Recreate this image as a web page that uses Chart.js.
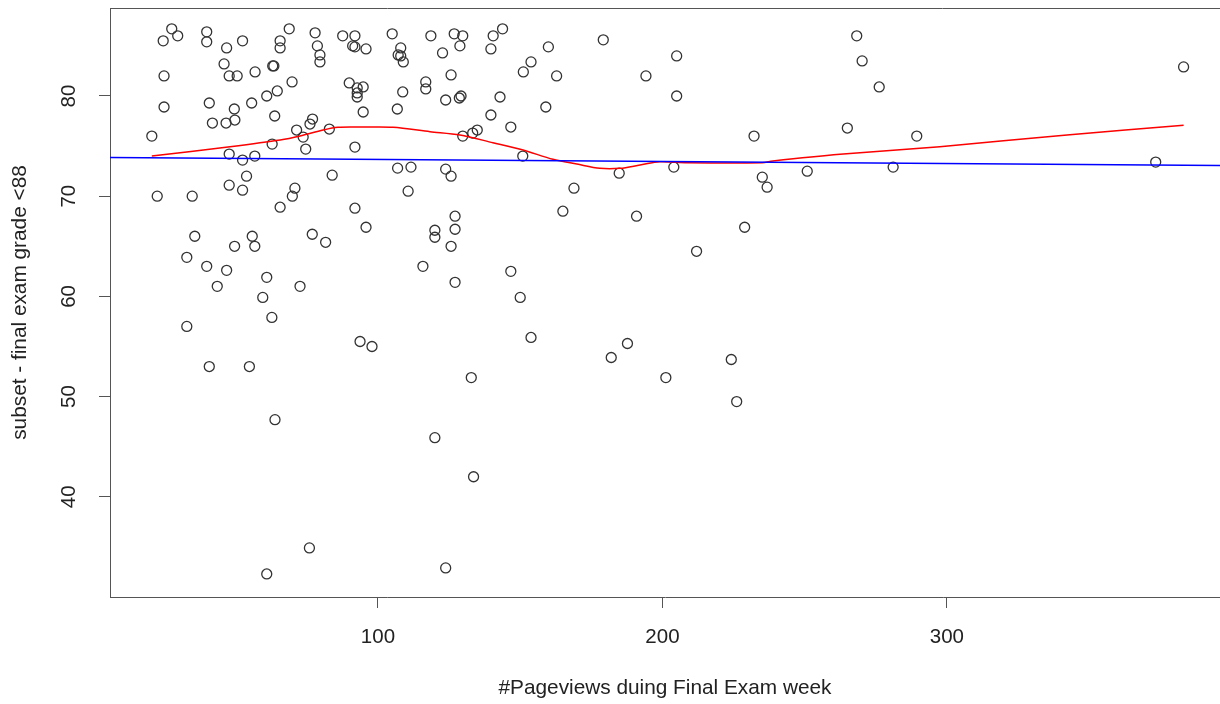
<!DOCTYPE html>
<html>
<head>
<meta charset="utf-8">
<script src="https://cdn.jsdelivr.net/npm/chart.js@4.4.0/dist/chart.umd.min.js"></script>
<style>
html,body{margin:0;padding:0;background:#fff;}
#wrap{width:1220px;height:704px;}
</style>
</head>
<body>
<div id="wrap"><canvas id="c" width="1220" height="704"></canvas></div>
<script>
// ---- data ----
const pageviews = [20.5,22.4,24.5,24.8,24.8,27.5,29.6,34.7,39.8,39.8,40.7,41.8,45.9,46.6,46.8,47.7,47.7,47.7,49.5,49.7,
  50.5,52.4,52.4,52.4,53.8,55.6,56.7,56.8,60.9,62.8,63.0,63.4,63.7,64.6,65.6,65.6,68.8,69.8,69.9,70.8,
  71.4,65.6,35.6,55.8,49.6,56.7,76.9,81.6,32.8,39.8,46.8,60.9,43.5,72.6,59.5,62.7,32.8,40.7,54.8,
  77.9,87.6,91.9,105.0,118.6,126.8,129.8,78.7,79.6,79.6,91.1,91.9,95.8,108.0,107.1,108.0,108.9,122.7,128.8,125.7,
  89.9,92.7,92.7,92.7,94.8,108.7,116.8,116.8,123.8,128.6,129.2,94.8,106.8,77.0,76.1,82.9,73.7,74.6,91.9,129.8,
  133.3,134.9,106.9,111.6,123.8,125.7,83.9,110.6,91.9,95.8,120.0,120.0,127.1,127.1,125.7,115.8,127.1,146.7,150.0,153.8,
  168.9,165.0,93.7,97.9,132.8,187.7,182.0,140.5,143.8,139.7,159.9,179.2,151.1,153.8,162.8,194.2,142.9,139.7,159.0,146.7,
  150.9,184.8,205.0,205.0,268.3,270.2,276.2,265.0,289.4,232.2,204.0,235.1,236.8,250.9,281.1,383.2,373.4,190.9,228.9,212.0,
  224.2,201.2,226.1,63.8,120.0,133.6,75.9,60.9,123.8];
const grades = [76.0,70.0,85.5,82.0,78.9,86.7,86.0,70.0,86.4,85.4,79.3,77.3,83.2,77.3,84.8,82.0,74.2,71.1,78.7,77.6,
  82.0,85.5,73.6,70.6,72.0,79.3,74.0,82.4,80.0,75.2,83.0,83.0,78.0,80.5,85.5,84.8,86.7,81.4,70.0,70.8,
  76.6,68.9,66.0,66.0,65.0,65.0,66.2,65.4,63.9,63.0,62.6,61.9,61.0,61.0,59.9,57.9,57.0,53.0,53.0,
  86.3,86.0,86.0,86.2,86.0,86.2,86.0,85.0,84.1,83.4,85.0,84.9,84.7,84.8,84.1,84.0,83.4,84.3,85.0,82.1,
  81.3,80.8,80.3,79.9,80.9,80.4,81.4,80.7,79.6,79.8,80.0,78.4,78.7,77.7,77.2,76.7,75.9,74.7,74.9,76.0,
  76.3,76.6,72.8,72.9,72.7,72.0,72.1,70.5,68.8,66.9,66.6,65.9,68.0,66.7,65.0,63.0,61.4,62.5,59.9,55.9,
  70.8,68.5,55.5,55.0,51.9,55.3,53.9,86.0,86.7,84.7,84.9,85.6,82.4,83.4,82.0,82.0,79.9,78.1,78.9,76.9,
  74.0,72.3,84.0,80.0,86.0,83.5,80.9,76.8,76.0,76.0,72.9,71.9,70.9,72.5,72.9,82.9,73.4,68.0,66.9,64.5,
  53.7,51.9,49.5,47.7,45.9,42.0,34.9,32.3,32.9];

// smooth (lowess) curve, red
const smoothX = [20.5,48.0,65.6,72.6,80.7,85.9,95.0,105.3,118.3,128.8,140.4,151.0,161.5,169.9,178.0,185.1,192.1,199.1,208.6,235.0,238.8,262.4,297.5,342.2,383.2];
const smoothY = [74.0,74.94,75.61,76.01,76.61,76.88,76.9,76.88,76.44,76.11,75.34,74.61,73.68,73.21,72.78,72.78,73.11,73.44,73.34,73.34,73.51,74.18,74.94,76.11,77.08];

// fitted straight line, blue
const fitX = [5.8, 396.0];
const fitY = [73.86, 73.05];

const xTicks = [100, 200, 300];
const yTicks = [40, 50, 60, 70, 80];
const xTitle = '#Pageviews duing Final Exam week';
const yTitle = 'subset - final exam grade <88';

// ---- chart ----
const pts = pageviews.map((v, i) => ({x: v, y: grades[i]}));
const smooth = smoothX.map((v, i) => ({x: v, y: smoothY[i]}));
const fit = fitX.map((v, i) => ({x: v, y: fitY[i]}));

const AXIS = '#555';
const TXT = '#222';
const TICKFONT = {family: '"Liberation Sans", Arial, sans-serif', size: 20.5};
const TITLEFONT = {family: '"Liberation Sans", Arial, sans-serif', size: 20.8};

const topBorder = {
  id: 'topBorder',
  afterDraw(chart) {
    const {ctx, chartArea: a} = chart;
    ctx.save();
    ctx.strokeStyle = AXIS;
    ctx.lineWidth = 1;
    ctx.beginPath();
    ctx.moveTo(a.left, a.top + 0.5);
    ctx.lineTo(a.right, a.top + 0.5);
    ctx.stroke();
    ctx.restore();
  }
};
const whiteBg = {
  id: 'whiteBg',
  beforeDraw(chart) {
    const ctx = chart.ctx;
    ctx.save();
    ctx.fillStyle = '#fff';
    ctx.fillRect(0, 0, chart.width, chart.height);
    ctx.restore();
  }
};

new Chart(document.getElementById('c'), {
  type: 'scatter',
  data: {
    datasets: [
      {data: fit, showLine: true, borderColor: '#0000ff', borderWidth: 1.5, pointRadius: 0, fill: false},
      {data: smooth, showLine: true, borderColor: '#ff0000', borderWidth: 1.5, pointRadius: 0, tension: 0.3, fill: false},
      {data: pts, showLine: false, pointStyle: 'circle', pointRadius: 5, borderWidth: 1.3,
       borderColor: '#333', backgroundColor: 'rgba(0,0,0,0)'}
    ]
  },
  options: {
    responsive: false,
    animation: false,
    devicePixelRatio: 1,
    layout: {autoPadding: false, padding: {top: 8, right: 0, bottom: 0, left: 0}},
    plugins: {legend: {display: false}, tooltip: {enabled: false}},
    scales: {
      x: {
        type: 'linear', min: 5.8, max: 396.0,
        afterBuildTicks: s => { s.ticks = xTicks.map(v => ({value: v})); },
        afterFit: s => { s.height = 107; s.paddingLeft = 0; s.paddingRight = 0; },
        grid: {drawOnChartArea: false, drawTicks: true, tickLength: 11, color: AXIS, lineWidth: 1},
        border: {display: true, color: AXIS, width: 1},
        ticks: {color: TXT, font: TICKFONT, padding: 17, maxRotation: 0, autoSkip: false},
        title: {display: true, text: xTitle, color: TXT, font: TITLEFONT, padding: {top: 0, bottom: 3}}
      },
      y: {
        type: 'linear', min: 30.0, max: 88.78,
        afterBuildTicks: s => { s.ticks = yTicks.map(v => ({value: v})); },
        afterFit: s => { s.width = 110; s.paddingTop = 0; s.paddingBottom = 0; },
        grid: {drawOnChartArea: false, drawTicks: true, tickLength: 11, color: AXIS, lineWidth: 1},
        border: {display: true, color: AXIS, width: 1},
        ticks: {color: TXT, font: TICKFONT, padding: 18, minRotation: 90, maxRotation: 90, crossAlign: 'center', autoSkip: false},
        title: {display: true, text: yTitle, color: TXT, font: TITLEFONT, padding: {top: 8, bottom: 0}}
      }
    }
  },
  plugins: [whiteBg, topBorder]
});
</script>
</body>
</html>
